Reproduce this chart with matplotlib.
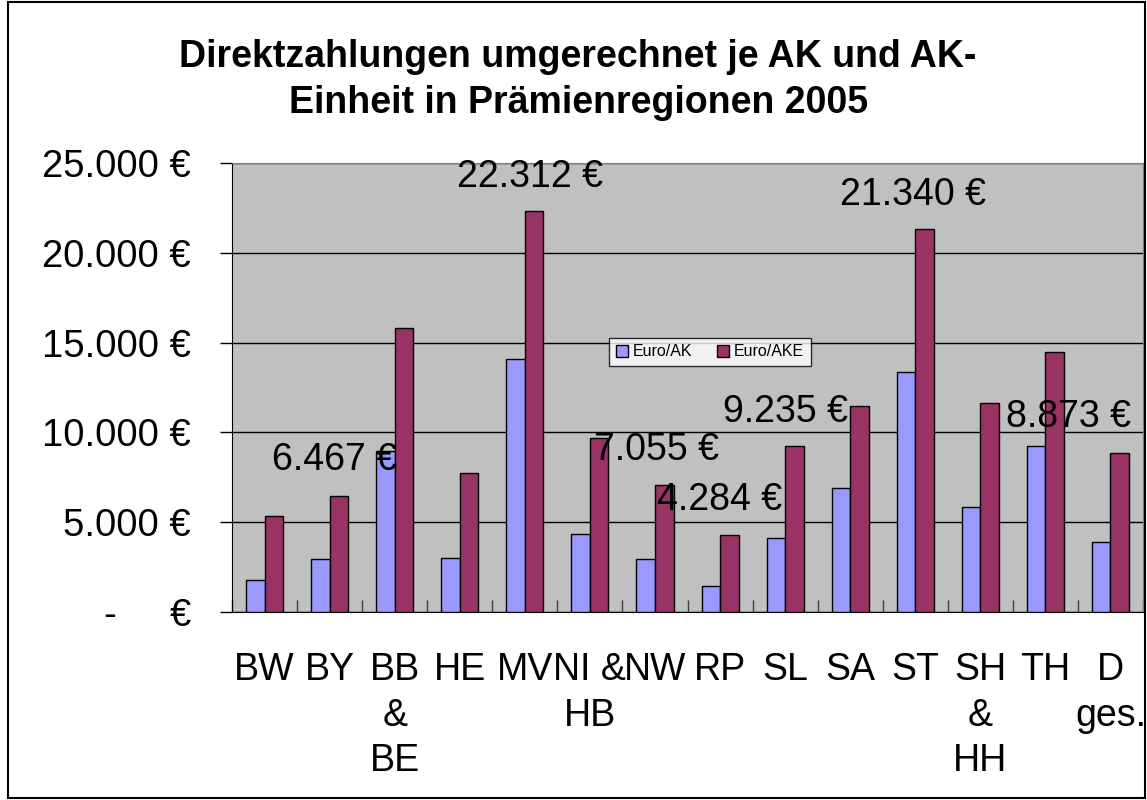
import matplotlib.pyplot as plt
from matplotlib.patches import Rectangle
import numpy as np

plt.rcParams['font.family'] = ['Liberation Sans', 'DejaVu Sans']

regions = ['BW', 'BY', 'BB\n&\nBE', 'HE', 'MV', 'NI &\nHB', 'NW', 'RP', 'SL',
           'SA', 'ST', 'SH\n&\nHH', 'TH', 'D\nges.']
euro_ak = [1780, 2930, 8980, 2990, 14100, 4330, 2930, 1450, 4100, 6920, 13350,
           5860, 9240, 3880]
euro_ake = [5350, 6467, 15810, 7720, 22312, 9690, 7055, 4284, 9235, 11470,
            21340, 11620, 14490, 8873]

# value labels as placed in the original (x in category units, y in euro)
label_text = ['6.467 €', '22.312 €', '7.055 €', '4.284 €', '9.235 €',
              '21.340 €', '8.873 €']
label_x = [1.08, 4.08, 6.02, 7.0, 8.0, 9.97, 12.35]
label_y = [8460, 24220, 9020, 6240, 11150, 23220, 10870]

yticks = [0, 5000, 10000, 15000, 20000, 25000]
ytick_labels = ['-     €', '5.000 €', '10.000 €', '15.000 €', '20.000 €',
                '25.000 €']

fig = plt.figure(figsize=(11.47, 8), dpi=100)
ax = fig.add_axes([0.2023, 0.235, 0.7942, 0.561])

x = np.arange(len(regions))
w = 0.285
ax.bar(x - w / 2, euro_ak, w, color='#9999FF', edgecolor='black',
       linewidth=1, label='Euro/AK', zorder=3)
ax.bar(x + w / 2, euro_ake, w, color='#993366', edgecolor='black',
       linewidth=1, label='Euro/AKE', zorder=3)

for t, lx, ly in zip(label_text, label_x, label_y):
    ax.text(lx, ly, t, ha='center', va='center', fontsize=27, zorder=5)

ax.set_facecolor('#C0C0C0')
ax.set_xlim(-0.5, len(regions) - 0.5)
ax.set_ylim(0, 25000)
ax.set_yticks(yticks)
ax.set_yticklabels(ytick_labels, fontsize=27.5)
ax.yaxis.grid(True, color='black', linewidth=1, zorder=1)
ax.set_axisbelow(True)

ax.set_xticks(x)
ax.set_xticklabels(regions, fontsize=27, va='top', linespacing=1.33)
ax.tick_params(axis='x', length=0, pad=29)
ax.set_xticks(np.arange(len(regions) + 1) - 0.5, minor=True)
ax.tick_params(axis='x', which='minor', direction='in', length=9, width=1,
               color='#404040')
ax.tick_params(axis='y', direction='out', length=8.6, width=1, pad=21)

for s in ['top', 'right']:
    ax.spines[s].set_color('#808080')
for s in ['left', 'bottom']:
    ax.spines[s].set_color('black')

leg = ax.legend(loc='center', bbox_to_anchor=(710 / 1147, 1 - 352 / 800),
                bbox_transform=fig.transFigure, ncol=2, fontsize=11.5,
                frameon=True, fancybox=False, borderpad=0.4,
                handlelength=0.8, handleheight=0.8, handletextpad=0.3,
                columnspacing=1.5)
leg.get_frame().set_edgecolor('black')
leg.get_frame().set_linewidth(1)

fig.text(0.504, 1 - 57 / 800, 'Direktzahlungen umgerechnet je AK und AK-',
         ha='center', va='center', fontsize=27, fontweight='bold')
fig.text(0.504, 1 - 103 / 800, 'Einheit in Prämienregionen 2005',
         ha='center', va='center', fontsize=27, fontweight='bold')

fig.patches.append(Rectangle((8 / 1147, 0.002), 1 - 10 / 1147, 0.995,
                             fill=False, edgecolor='black', linewidth=1.5,
                             transform=fig.transFigure))

fig.savefig('out.png', dpi=100)
